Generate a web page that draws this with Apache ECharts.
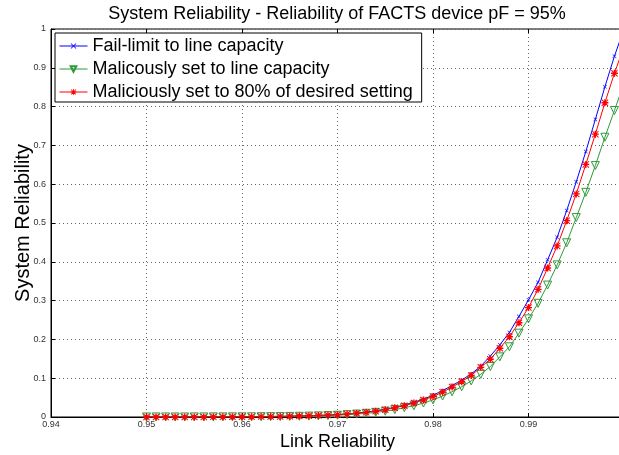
<!DOCTYPE html>
<html>
<head>
<meta charset="utf-8">
<script src="https://cdn.jsdelivr.net/npm/echarts@6/dist/echarts.min.js"></script>
<style>html,body{margin:0;padding:0;background:#fff}#c{width:619px;height:455px}</style>
</head>
<body>
<div id="c"></div>
<script>
var linkReliability = [0.950,0.951,0.952,0.953,0.954,0.955,0.956,0.957,0.958,0.959,
  0.960,0.961,0.962,0.963,0.964,0.965,0.966,0.967,0.968,0.969,
  0.970,0.971,0.972,0.973,0.974,0.975,0.976,0.977,0.978,0.979,
  0.980,0.981,0.982,0.983,0.984,0.985,0.986,0.987,0.988,0.989,
  0.990,0.991,0.992,0.993,0.994,0.995,0.996,0.997,0.998,0.999,1.000];
var failLimit = [0.0001,0.0001,0.0001,0.0002,0.0002,0.0003,0.0003,0.0004,0.0005,0.0006,
  0.0007,0.0009,0.0011,0.0014,0.0017,0.0022,0.0027,0.0034,0.0042,0.0052,
  0.0065,0.008,0.010,0.013,0.016,0.020,0.025,0.031,0.038,0.046,
  0.056,0.068,0.081,0.095,0.111,0.131,0.157,0.186,0.218,0.259,
  0.302,0.347,0.405,0.463,0.532,0.606,0.684,0.767,0.851,0.930,1.0];
var maliciousLine = [0.0001,0.0001,0.0001,0.0001,0.0001,0.0002,0.0002,0.0003,0.0003,0.0004,
  0.0005,0.0006,0.0008,0.0010,0.0012,0.0015,0.0019,0.0023,0.0029,0.0036,
  0.0045,0.006,0.0075,0.0095,0.012,0.015,0.019,0.024,0.029,0.036,
  0.044,0.054,0.065,0.078,0.093,0.110,0.130,0.155,0.181,0.216,
  0.253,0.293,0.340,0.392,0.449,0.514,0.579,0.648,0.721,0.790,0.86];
var malicious80 = [0.0001,0.0001,0.0001,0.0001,0.0002,0.0002,0.0003,0.0004,0.0004,0.0005,
  0.0007,0.0008,0.0010,0.0013,0.0016,0.0020,0.0025,0.0031,0.0039,0.0049,
  0.0061,0.0075,0.0095,0.012,0.015,0.019,0.024,0.029,0.036,0.044,
  0.053,0.064,0.077,0.091,0.107,0.128,0.149,0.177,0.207,0.243,
  0.282,0.329,0.384,0.441,0.506,0.575,0.651,0.729,0.810,0.886,0.955];
var seriesNames = ['Fail-limit to line capacity','Malicously set to line capacity','Maliciously set to 80% of desired setting'];

function pairs(ys){ return linkReliability.map(function(x,i){ return [x, ys[i]]; }); }

var FONT = 'Liberation Sans, Arial, sans-serif';
var xMark = 'path://M0,1L1,0L5,4L9,0L10,1L6,5L10,9L9,10L5,6L1,10L0,9L4,5Z';
var starMark = 'path://M4,0H6V4H10V6H6V10H4V6H0V4H4Z M0,1L1,0L5,4L9,0L10,1L6,5L10,9L9,10L5,6L1,10L0,9L4,5Z';

var chart = echarts.init(document.getElementById('c'), null, {renderer:'canvas'});
var gridLine = {show:true, lineStyle:{color:'#666', type:[1,3], width:1}};
chart.setOption({
  animation:false,
  backgroundColor:'#fff',
  title:{text:'System Reliability - Reliability of FACTS device pF = 95%', left:337, top:5, padding:0, textAlign:'center',
    textStyle:{fontFamily:FONT, fontSize:18, fontWeight:'normal', color:'#000'}},
  grid:{left:51, top:29, width:573, height:388, show:true, borderColor:'#000', borderWidth:1, backgroundColor:'#fff',
    outerBoundsMode:'none', containLabel:false},
  legend:{orient:'vertical', left:55, top:33, padding:[4,9,1,4], itemGap:5, itemWidth:28, itemHeight:7,
    backgroundColor:'#fff', borderColor:'#000', borderWidth:1, borderRadius:0,
    lineStyle:{width:1},
    textStyle:{fontFamily:FONT, fontSize:18, color:'#000', lineHeight:18},
    data:seriesNames},
  xAxis:[{type:'value', min:0.94, max:1.0, interval:0.01, position:'bottom',
    name:'Link Reliability', nameLocation:'middle', nameGap:16, nameMoveOverlap:false,
    nameTextStyle:{fontFamily:FONT, fontSize:18, color:'#000'},
    axisLine:{show:true, lineStyle:{color:'#000'}},
    axisTick:{show:true, inside:true, length:4, lineStyle:{color:'#000'}},
    axisLabel:{fontFamily:FONT, fontSize:9, color:'#333', margin:3, formatter:function(v){return v > 0.995 ? '' : v.toFixed(2);}},
    splitLine:gridLine},
   {type:'value', min:0.94, max:1.0, interval:0.01, position:'top',
    axisLine:{show:false}, axisTick:{show:true, inside:true, length:4, lineStyle:{color:'#000'}},
    axisLabel:{show:false}, splitLine:{show:false}}],
  yAxis:{type:'value', min:0, max:1, interval:0.1,
    name:'System Reliability', nameLocation:'middle', nameGap:18, nameMoveOverlap:false,
    nameTextStyle:{fontFamily:FONT, fontSize:20, color:'#000'},
    axisLine:{show:true, lineStyle:{color:'#000'}},
    axisTick:{show:true, inside:true, length:4, lineStyle:{color:'#000'}},
    axisLabel:{fontFamily:FONT, fontSize:9, color:'#333', margin:5, formatter:function(v){return String(+v.toFixed(1));}},
    splitLine:gridLine},
  series:[
    {name:seriesNames[0], type:'line', data:pairs(failLimit), color:'#0000ff', symbol:xMark, symbolSize:4,
     lineStyle:{width:1, color:'#0000ff'}, itemStyle:{color:'#0000ff'}, clip:true, z:2},
    {name:seriesNames[1], type:'line', data:pairs(maliciousLine), color:'#2e9a3a', symbol:'triangle', symbolRotate:180, symbolSize:8,
     lineStyle:{width:1, color:'#2e9a3a'}, itemStyle:{color:'rgba(255,255,255,0)', borderColor:'#2e9a3a', borderWidth:1}, clip:true, z:3},
    {name:seriesNames[2], type:'line', data:pairs(malicious80), color:'#ff0000', symbol:starMark, symbolSize:7,
     lineStyle:{width:1, color:'#ff0000'}, itemStyle:{color:'#ff0000'}, clip:true, z:4}
  ]
});
</script>
</body>
</html>
